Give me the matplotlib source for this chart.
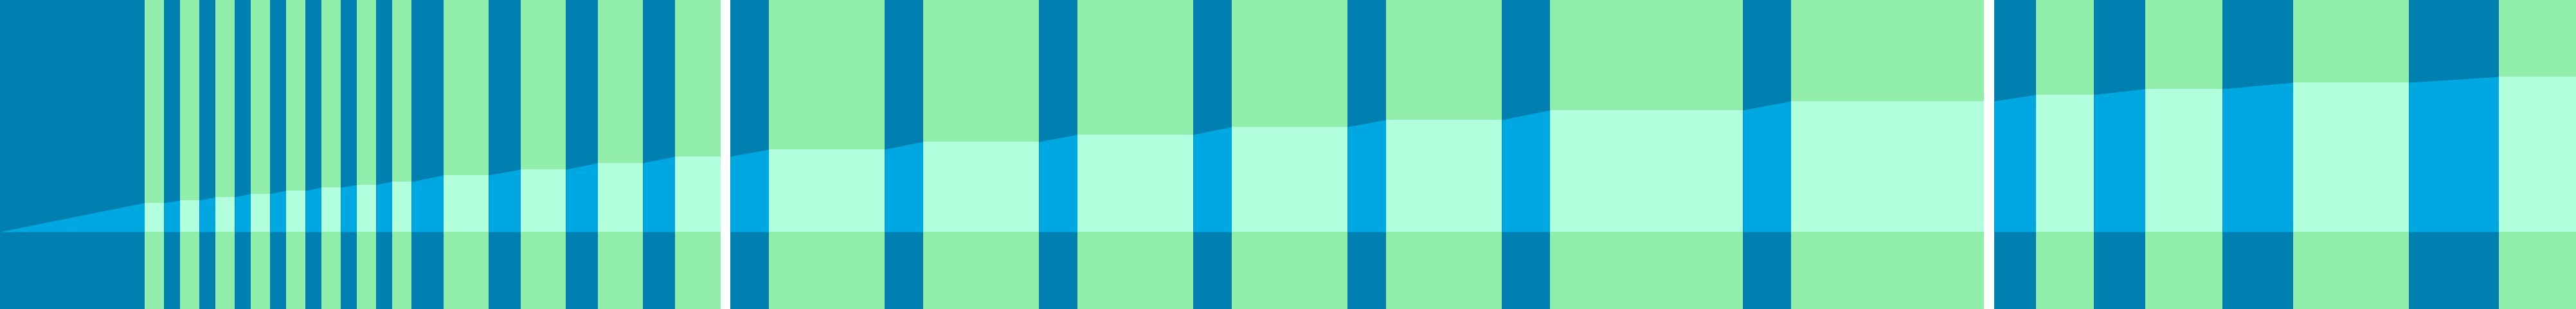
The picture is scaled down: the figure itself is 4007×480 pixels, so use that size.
import matplotlib
matplotlib.use("Agg")
import matplotlib.pyplot as plt

# blue (dark) stretches, in pixel units along the x axis
dark_start = [0, 255, 310, 365, 420, 475, 530, 585, 640, 760, 880, 1000,
              1136, 1376, 1616, 1856, 2096, 2336, 2711,
              3102, 3257, 3457, 3747]
dark_end = [225, 280, 335, 390, 445, 500, 555, 610, 690, 810, 930, 1050,
            1196, 1436, 1676, 1916, 2156, 2411, 2786,
            3167, 3337, 3567, 3887]
# height of the running total reached at the end of each dark stretch
level = [45, 49, 54, 59, 64, 69, 73, 78, 88, 97, 107, 117,
         128, 140, 151, 163, 174, 189, 203,
         213, 222, 232, 241]
# white breaks between the three sections
gap_start = [1121, 3086]
gap_end = [1136, 3102]

x_max = 4007
y_min, y_max = -120, 360

dark = '#0080b0'
green = '#90eeaa'
bright = '#00a8e1'
mint = '#b1ffdd'

fig = plt.figure(figsize=(40.07, 4.8), dpi=100)
ax = fig.add_axes([0, 0, 1, 1])
ax.set_xlim(0, x_max)
ax.set_ylim(y_min, y_max)
ax.axis('off')

prev = 0
for i in range(len(dark_start)):
    s, e = dark_start[i], dark_end[i]
    ax.bar(s, y_max - y_min, width=e - s, bottom=y_min, align='edge',
           color=dark, linewidth=0)
    ax.fill_between([s, e], [0, 0], [prev, level[i]], color=bright, linewidth=0)

    # green stretch that follows, cut short by a white break if there is one
    g0 = e
    g1 = dark_start[i + 1] if i + 1 < len(dark_start) else x_max
    for gs in gap_start:
        if g0 <= gs < g1:
            g1 = gs
    ax.bar(g0, y_max - y_min, width=g1 - g0, bottom=y_min, align='edge',
           color=green, linewidth=0)
    ax.fill_between([g0, g1], [0, 0], [level[i], level[i]], color=mint, linewidth=0)
    prev = level[i]

for gs, ge in zip(gap_start, gap_end):
    ax.axvspan(gs, ge, color='white', linewidth=0)

fig.savefig('out.png', dpi=100)
